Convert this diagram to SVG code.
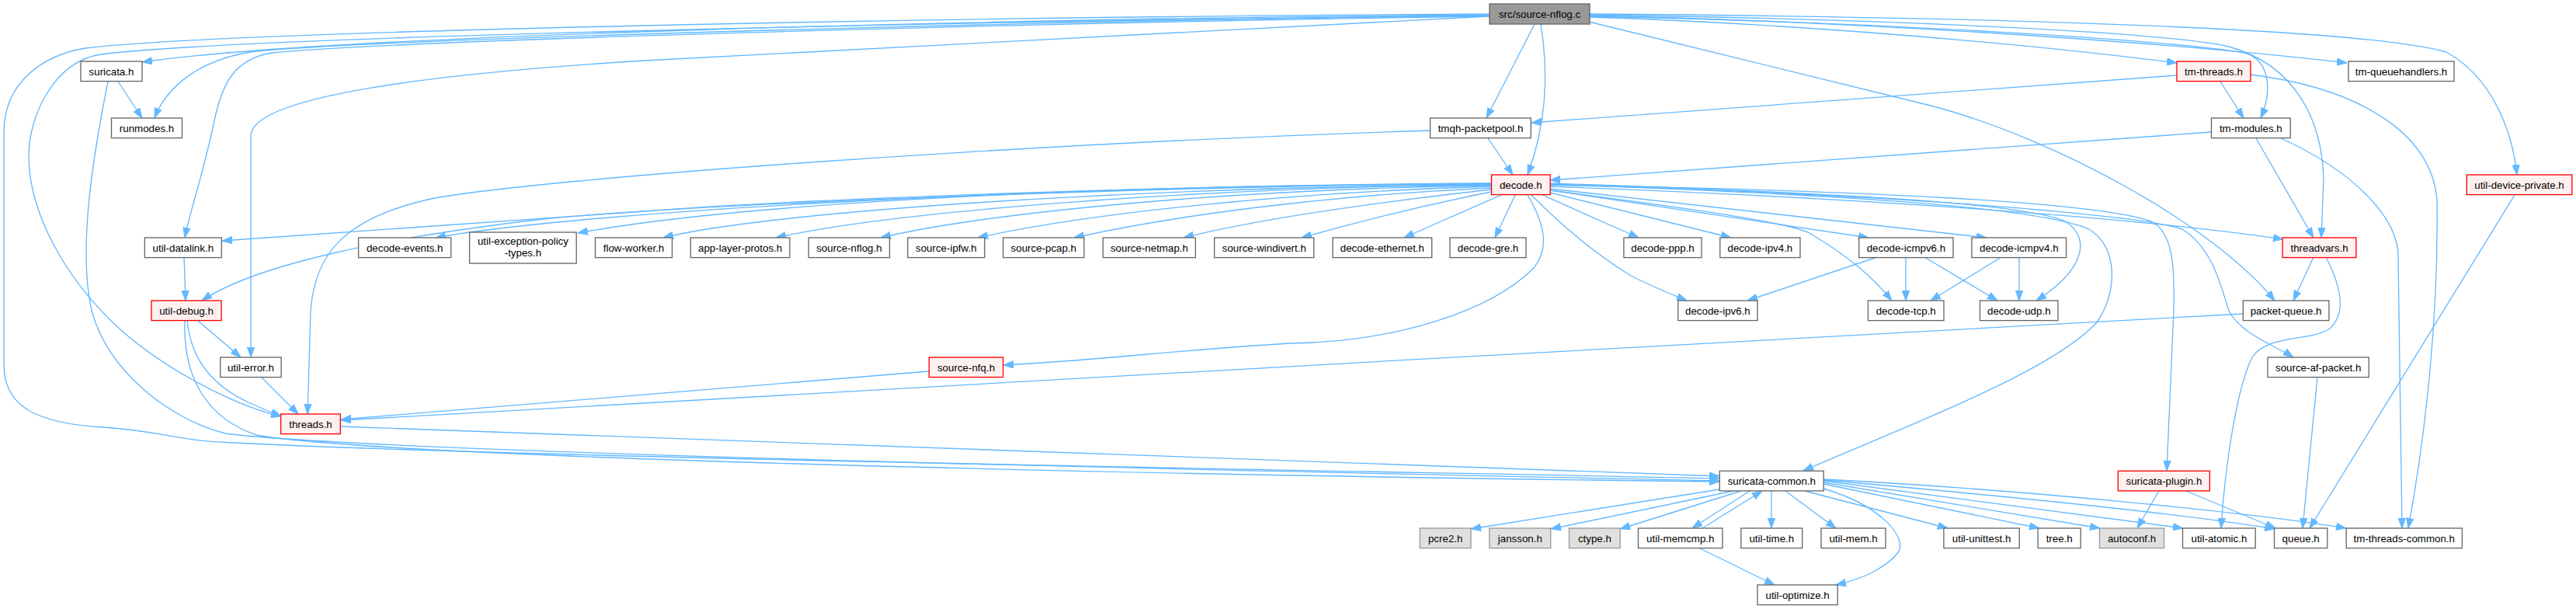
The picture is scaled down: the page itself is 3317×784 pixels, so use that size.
<svg xmlns="http://www.w3.org/2000/svg" width="3317" height="784" viewBox="0 0 3317 784">
<style>
.n rect{fill:#ffffff;stroke:#666666;stroke-width:1.33}
.r rect{fill:#fff0f0;stroke:#ff0000;stroke-width:1.33}
.g rect{fill:#e0e0e0;stroke:#999999;stroke-width:1.33}
.rt rect{fill:#999999;stroke:#666666;stroke-width:1.33}
text{font-family:"Liberation Sans",Arial,Helvetica,sans-serif;font-size:13.33px;text-anchor:middle;fill:#000000}
#edges path{fill:none;stroke:#63b8ff;stroke-width:1.33;marker-end:url(#a)}
</style>
<defs>
<marker id="a" markerWidth="13" markerHeight="10" refX="13" refY="5" orient="auto" markerUnits="userSpaceOnUse"><path d="M0,0.3 L13,5 L0,9.7 z" fill="#63b8ff" stroke="#63b8ff" stroke-width="1"/></marker>
</defs>
<rect x="0" y="0" width="3317" height="784" fill="#ffffff"/>
<g id="edges">
<path d="M1918,19 C1300,24 420,45 183,80"/>
<path d="M1918,20 C1300,28 500,50 330,66 C260,75 215,110 199,152"/>
<path d="M1918,21 C1300,30 520,52 350,68 C300,76 285,110 275,160 C260,230 245,270 238,306"/>
<path d="M1918,21 C1500,43 1100,64 830,78 C550,95 323,125 323,175 L323,460"/>
<path d="M1918,20 C1200,28 300,48 130,70 C70,78 37,150 37,200 C37,280 90,360 140,410 C200,470 300,522 362,536"/>
<path d="M1918,18 C1200,22 300,40 110,62 C50,72 5,110 5,170 L5,470 C5,525 50,545 132,550 C210,555 230,568 300,570 C700,590 1800,607 2214,616"/>
<path d="M152,105 L183,152"/>
<path d="M139,105 C120,200 100,320 118,400 C140,480 220,540 290,558 C500,585 1800,610 2214,619"/>
<path d="M1976,31 L1914,152"/>
<path d="M1984,31 C1992,80 1995,150 1967,225"/>
<path d="M1916,178 L1948,225"/>
<path d="M1842,168 C1300,185 700,230 560,255 C440,280 405,330 400,400 L396,533"/>
<path d="M2803,97 L1972,158"/>
<path d="M2847,170 L1996,232"/>
<path d="M2047,22 C2300,30 2600,55 2803,81"/>
<path d="M2047,20 C2400,28 2800,55 3022,81"/>
<path d="M2047,21 C2400,28 2780,50 2890,68 C2925,78 2925,120 2911,152"/>
<path d="M2047,19 C2400,24 2780,40 2870,60 C2960,85 2990,160 2992,230 L2989,306"/>
<path d="M2047,18 C2600,22 3050,38 3150,67 C3210,100 3235,170 3241,225"/>
<path d="M2046,28 L2490,137 C2650,180 2850,290 2929,387"/>
<path d="M2859,105 L2889,152"/>
<path d="M2898,96 C3050,115 3135,180 3138,260 C3140,400 3125,550 3101,680"/>
<path d="M2905,178 L2979,306"/>
<path d="M2937,178 C3030,220 3088,280 3088,330 L3093,680"/>
<path d="M3238,251 L2974,680"/>
<path d="M1996,240 C2400,255 2750,280 2940,308"/>
<path d="M1996,238 C2400,245 2700,260 2770,285 C2800,300 2800,350 2799,400 L2790,606"/>
<path d="M1996,238 C2400,248 2750,275 2810,295 C2850,320 2860,370 2870,400 C2885,430 2930,445 2953,460"/>
<path d="M1996,237 C2350,250 2620,265 2690,295 C2730,320 2725,380 2700,415 C2640,480 2450,550 2322,606"/>
<path d="M1996,236 C2350,248 2600,260 2660,285 C2695,310 2680,350 2622,387"/>
<path d="M1996,245 C2150,265 2300,285 2330,300 C2380,330 2410,355 2436,387"/>
<path d="M1972,251 C2020,300 2060,330 2100,355 C2130,370 2150,378 2172,387"/>
<path d="M1986,251 L2110,306"/>
<path d="M1996,248 L2229,306"/>
<path d="M1996,245 L2406,306"/>
<path d="M1996,243 L2558,306"/>
<path d="M1951,251 L1925,306"/>
<path d="M1933,251 L1808,306"/>
<path d="M1920,247 C1830,265 1750,285 1676,306"/>
<path d="M1920,244 C1760,262 1620,282 1524,306"/>
<path d="M1920,242 C1700,252 1510,278 1383,306"/>
<path d="M1920,240 C1650,248 1400,275 1259,306"/>
<path d="M1920,239 C1600,243 1280,272 1134,306"/>
<path d="M1920,238 C1550,241 1150,272 999,306"/>
<path d="M1920,238 C1500,240 1000,270 854,306"/>
<path d="M1920,237 C1400,238 950,262 744,300"/>
<path d="M1920,237 C1400,237 760,270 561,306"/>
<path d="M1920,236 C1500,238 1000,258 830,272 L286,310"/>
<path d="M1920,236 C1500,240 900,262 700,282 C500,305 330,340 260,387"/>
<path d="M1967,251 C1990,290 1995,320 1975,345 C1920,400 1800,440 1660,442 C1500,452 1400,465 1292,470"/>
<path d="M2417,331 L2250,387"/>
<path d="M2454,331 L2454,387"/>
<path d="M2478,331 L2572,387"/>
<path d="M2577,331 L2486,387"/>
<path d="M2600,331 L2600,387"/>
<path d="M2979,331 L2953,387"/>
<path d="M2995,331 C3010,360 3025,400 3000,423 C2975,440 2920,430 2900,460 C2880,500 2865,600 2860,680"/>
<path d="M2888,404 C2200,440 1000,510 439,541"/>
<path d="M1196,478 L439,540"/>
<path d="M439,549 L2214,613"/>
<path d="M237,331 L239,387"/>
<path d="M254,412 L310,460"/>
<path d="M241,412 C245,460 270,495 320,518 C335,525 350,531 362,536"/>
<path d="M238,412 C235,490 270,540 330,560 C500,590 1500,612 2214,620"/>
<path d="M336,485 L384,533"/>
<path d="M2214,630 L1894,681"/>
<path d="M2232,632 L1997,681"/>
<path d="M2242,632 L2086,681"/>
<path d="M2253,632 L2179,680"/>
<path d="M2192,680 L2269,632"/>
<path d="M2281,632 L2281,680"/>
<path d="M2299,632 L2364,680"/>
<path d="M2348,629 C2420,650 2455,690 2445,710 C2430,730 2400,745 2364,753"/>
<path d="M2189,706 L2285,753"/>
<path d="M2324,632 L2508,680"/>
<path d="M2348,623 L2626,680"/>
<path d="M2348,621 L2704,680"/>
<path d="M2348,619 L2811,680"/>
<path d="M2348,618 C2600,640 2800,660 2929,681"/>
<path d="M2348,617 C2600,630 2900,660 3021,680"/>
<path d="M2780,632 L2752,680"/>
<path d="M2815,632 L2930,680"/>
<path d="M2984,486 L2965,680"/>
</g>
<g id="root" class="rt"><rect x="1918" y="5" width="129" height="26"/><text x="1982.5" y="22.5">src/source-nflog.c</text></g>
<g id="suricata_h" class="n"><rect x="104" y="79" width="79" height="25.6"/><text x="143.5" y="96.5">suricata.h</text></g>
<g id="tm_threads_h" class="r"><rect x="2803" y="79" width="95" height="25.6"/><text x="2850.5" y="96.5">tm-threads.h</text></g>
<g id="tm_queuehandlers_h" class="n"><rect x="3024" y="79" width="136" height="25.6"/><text x="3092" y="96.5">tm-queuehandlers.h</text></g>
<g id="runmodes_h" class="n"><rect x="143.5" y="152" width="91" height="25.6"/><text x="189" y="169.5">runmodes.h</text></g>
<g id="tmqh_packetpool_h" class="n"><rect x="1841.6" y="152" width="129.7" height="25.6"/><text x="1906.5" y="169.5">tmqh-packetpool.h</text></g>
<g id="tm_modules_h" class="n"><rect x="2847.5" y="152" width="101.7" height="25.6"/><text x="2898.3" y="169.5">tm-modules.h</text></g>
<g id="decode_h" class="r"><rect x="1920.5" y="225" width="75.7" height="25.6"/><text x="1958.3" y="242.5">decode.h</text></g>
<g id="util_device_private_h" class="r"><rect x="3176.3" y="225" width="135.5" height="25.6"/><text x="3244" y="242.5">util-device-private.h</text></g>
<g id="util_datalink_h" class="n"><rect x="186.3" y="306" width="99" height="25.6"/><text x="235.8" y="323.5">util-datalink.h</text></g>
<g id="decode_events_h" class="n"><rect x="461.6" y="306" width="119.1" height="25.6"/><text x="521.2" y="323.5">decode-events.h</text></g>
<g id="util_exception_policy_types_h" class="n"><rect x="604.6" y="299" width="137.6" height="40"/><text x="673.4" y="315">util-exception-policy</text><text x="673.4" y="329.5">-types.h</text></g>
<g id="flow_worker_h" class="n"><rect x="766.5" y="306" width="99" height="25.6"/><text x="816" y="323.5">flow-worker.h</text></g>
<g id="app_layer_protos_h" class="n"><rect x="889.3" y="306" width="127.6" height="25.6"/><text x="953.1" y="323.5">app-layer-protos.h</text></g>
<g id="source_nflog_h" class="n"><rect x="1041.2" y="306" width="104.3" height="25.6"/><text x="1093.4" y="323.5">source-nflog.h</text></g>
<g id="source_ipfw_h" class="n"><rect x="1168.8" y="306" width="99" height="25.6"/><text x="1218.3" y="323.5">source-ipfw.h</text></g>
<g id="source_pcap_h" class="n"><rect x="1291.6" y="306" width="104.3" height="25.6"/><text x="1343.8" y="323.5">source-pcap.h</text></g>
<g id="source_netmap_h" class="n"><rect x="1420.3" y="306" width="119.1" height="25.6"/><text x="1479.9" y="323.5">source-netmap.h</text></g>
<g id="source_windivert_h" class="n"><rect x="1563.7" y="306" width="128.1" height="25.6"/><text x="1627.8" y="323.5">source-windivert.h</text></g>
<g id="decode_ethernet_h" class="n"><rect x="1716.1" y="306" width="127.6" height="25.6"/><text x="1779.9" y="323.5">decode-ethernet.h</text></g>
<g id="decode_gre_h" class="n"><rect x="1867" y="306" width="98" height="25.6"/><text x="1916" y="323.5">decode-gre.h</text></g>
<g id="decode_ppp_h" class="n"><rect x="2090.9" y="306" width="100.1" height="25.6"/><text x="2141" y="323.5">decode-ppp.h</text></g>
<g id="decode_ipv4_h" class="n"><rect x="2214.8" y="306" width="103.2" height="25.6"/><text x="2266.4" y="323.5">decode-ipv4.h</text></g>
<g id="decode_icmpv6_h" class="n"><rect x="2393.7" y="306" width="121.3" height="25.6"/><text x="2454.4" y="323.5">decode-icmpv6.h</text></g>
<g id="decode_icmpv4_h" class="n"><rect x="2538.9" y="306" width="121.7" height="25.6"/><text x="2599.8" y="323.5">decode-icmpv4.h</text></g>
<g id="threadvars_h" class="r"><rect x="2939.1" y="306" width="94.8" height="25.6"/><text x="2986.5" y="323.5">threadvars.h</text></g>
<g id="util_debug_h" class="r"><rect x="195" y="387" width="90" height="25.6"/><text x="240" y="404.5">util-debug.h</text></g>
<g id="decode_ipv6_h" class="n"><rect x="2160.8" y="387" width="102.2" height="25.6"/><text x="2211.9" y="404.5">decode-ipv6.h</text></g>
<g id="decode_tcp_h" class="n"><rect x="2405.4" y="387" width="97.6" height="25.6"/><text x="2454.2" y="404.5">decode-tcp.h</text></g>
<g id="decode_udp_h" class="n"><rect x="2549.5" y="387" width="100.5" height="25.6"/><text x="2599.8" y="404.5">decode-udp.h</text></g>
<g id="packet_queue_h" class="n"><rect x="2888.3" y="387" width="110.6" height="25.6"/><text x="2943.6" y="404.5">packet-queue.h</text></g>
<g id="util_error_h" class="n"><rect x="283.7" y="460" width="78.4" height="25.6"/><text x="322.9" y="477.5">util-error.h</text></g>
<g id="source_nfq_h" class="r"><rect x="1196.3" y="460" width="95.3" height="25.6"/><text x="1244" y="477.5">source-nfq.h</text></g>
<g id="source_af_packet_h" class="n"><rect x="2920" y="460" width="130.3" height="25.6"/><text x="2985.2" y="477.5">source-af-packet.h</text></g>
<g id="threads_h" class="r"><rect x="361.6" y="533" width="76.7" height="25.6"/><text x="400" y="550.5">threads.h</text></g>
<g id="suricata_common_h" class="n"><rect x="2214.3" y="606.3" width="133.9" height="25.6"/><text x="2281.3" y="623.8">suricata-common.h</text></g>
<g id="suricata_plugin_h" class="r"><rect x="2727.3" y="606.3" width="118.1" height="25.6"/><text x="2786.4" y="623.8">suricata-plugin.h</text></g>
<g id="pcre2_h" class="g"><rect x="1828.3" y="680" width="65.7" height="25.6"/><text x="1861.2" y="697.5">pcre2.h</text></g>
<g id="jansson_h" class="g"><rect x="1917.8" y="680" width="78.9" height="25.6"/><text x="1957.3" y="697.5">jansson.h</text></g>
<g id="ctype_h" class="g"><rect x="2020.5" y="680" width="65.7" height="25.6"/><text x="2053.4" y="697.5">ctype.h</text></g>
<g id="util_memcmp_h" class="n"><rect x="2109.5" y="680" width="108.5" height="25.6"/><text x="2163.8" y="697.5">util-memcmp.h</text></g>
<g id="util_time_h" class="n"><rect x="2241.8" y="680" width="78.9" height="25.6"/><text x="2281.3" y="697.5">util-time.h</text></g>
<g id="util_mem_h" class="n"><rect x="2345" y="680" width="83" height="25.6"/><text x="2386.5" y="697.5">util-mem.h</text></g>
<g id="util_unittest_h" class="n"><rect x="2502.9" y="680" width="97.4" height="25.6"/><text x="2551.6" y="697.5">util-unittest.h</text></g>
<g id="tree_h" class="n"><rect x="2624.1" y="680" width="55.1" height="25.6"/><text x="2651.7" y="697.5">tree.h</text></g>
<g id="autoconf_h" class="g"><rect x="2703.5" y="680" width="83.1" height="25.6"/><text x="2745" y="697.5">autoconf.h</text></g>
<g id="util_atomic_h" class="n"><rect x="2810.5" y="680" width="93.7" height="25.6"/><text x="2857.4" y="697.5">util-atomic.h</text></g>
<g id="queue_h" class="n"><rect x="2928.5" y="680" width="68.3" height="25.6"/><text x="2962.7" y="697.5">queue.h</text></g>
<g id="tm_threads_common_h" class="n"><rect x="3021.2" y="680" width="149.2" height="25.6"/><text x="3095.8" y="697.5">tm-threads-common.h</text></g>
<g id="util_optimize_h" class="n"><rect x="2263" y="753" width="103.2" height="25.6"/><text x="2314.6" y="770.5">util-optimize.h</text></g>
</svg>
